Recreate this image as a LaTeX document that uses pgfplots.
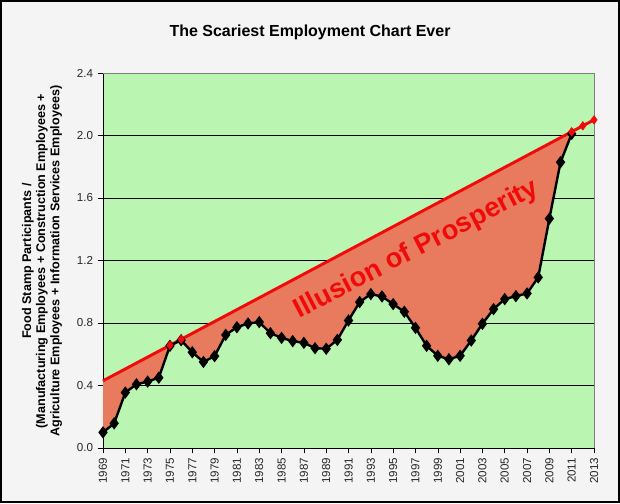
\documentclass[border=0pt]{standalone}
\usepackage{fontspec}
\setmainfont{Liberation Sans}
\usepackage{pgfplots}
\pgfplotsset{compat=1.18}
\definecolor{bggreen}{RGB}{186,245,178}
\definecolor{fillorange}{RGB}{232,122,94}
\definecolor{outerbg}{RGB}{244,244,244}
\definecolor{redline}{RGB}{240,10,10}
\begin{document}
\begin{tikzpicture}
\fill[outerbg] (0,0) rectangle (465pt,377.25pt);
\draw[black, line width=1.2pt] (0.6pt,0.6pt) rectangle (464.4pt,376.65pt);
\begin{axis}[
  at={(77.25pt,41.25pt)}, anchor=south west,
  scale only axis, width=368.25pt, height=281.25pt,
  xmin=1969, xmax=2013, ymin=0, ymax=2.4,
  ytick={0,0.4,0.8,1.2,1.6,2.0,2.4},
  xtick={1969,1971,...,2013},
  /pgf/number format/assume math mode=true,
  yticklabel style={/pgf/number format/fixed, /pgf/number format/fixed zerofill, /pgf/number format/precision=1},
  xticklabel style={rotate=90, anchor=east, /pgf/number format/1000 sep={}},
  tick label style={font=\fontsize{8.7}{10}\selectfont, text=black!85},
  tick align=outside, tick style={black, thin},
  major tick length=4pt,
  ymajorgrids, grid style={black, thin},
  axis background/.style={fill=bggreen},
  axis x line*=bottom, axis y line*=left,
  axis line style={black, thin},
  clip=false,
]
\draw[gray, thin] (axis cs:1969,2.4) -- (axis cs:2013,2.4) -- (axis cs:2013,0);
% area between the trend line and the series
\addplot[fill=fillorange, draw=none] coordinates {
(1969,0.43) (2011,2.024)
(2011,2.011) (2010,1.829) (2009,1.468) (2008,1.092) (2007,0.989) (2006,0.972) (2005,0.953)
(2004,0.889) (2003,0.795) (2002,0.688) (2001,0.590) (2000,0.568) (1999,0.590) (1998,0.654)
(1997,0.769) (1996,0.872) (1995,0.921) (1994,0.970) (1993,0.985) (1992,0.934) (1991,0.816)
(1990,0.692) (1989,0.635) (1988,0.639) (1987,0.673) (1986,0.684) (1985,0.705) (1984,0.735)
(1983,0.806) (1982,0.797) (1981,0.773) (1980,0.724) (1979,0.588) (1978,0.551) (1977,0.613)
(1976,0.690) (1975,0.654) (1974,0.450) (1973,0.425) (1972,0.408) (1971,0.355) (1970,0.158)
(1969,0.100)
} -- cycle;
% trend line
\addplot[redline, line width=2.2pt, no marks] coordinates {(1969,0.43) (2013,2.10)};
% series
\addplot[black, line width=1.8pt, mark=diamond*, mark size=3.2pt, mark options={solid, fill=black}] coordinates {
(1969,0.100) (1970,0.158) (1971,0.355) (1972,0.408) (1973,0.425) (1974,0.450) (1975,0.654)
(1976,0.690) (1977,0.613) (1978,0.551) (1979,0.588) (1980,0.724) (1981,0.773) (1982,0.797)
(1983,0.806) (1984,0.735) (1985,0.705) (1986,0.684) (1987,0.673) (1988,0.639) (1989,0.635)
(1990,0.692) (1991,0.816) (1992,0.934) (1993,0.985) (1994,0.970) (1995,0.921) (1996,0.872)
(1997,0.769) (1998,0.654) (1999,0.590) (2000,0.568) (2001,0.590) (2002,0.688) (2003,0.795)
(2004,0.889) (2005,0.953) (2006,0.972) (2007,0.989) (2008,1.092) (2009,1.468) (2010,1.829)
(2011,2.011)
};
% trend markers
\addplot[only marks, mark=diamond*, mark size=3.2pt, mark options={fill=redline, draw=redline}] coordinates {
(1975,0.658) (1976,0.696) (2011,2.024) (2012,2.062) (2013,2.10)
};
\node[rotate=27.5, text=redline, font=\bfseries\fontsize{20.5}{24}\selectfont] at (axis cs:1997.1,1.27) {Illusion of Prosperity};
\end{axis}
\node[font=\bfseries\fontsize{12}{14}\selectfont] at (232.5pt,353pt) {The Scariest Employment Chart Ever};
\node[rotate=90, align=center, font=\bfseries\fontsize{9.45}{10.6}\selectfont] at (31.5pt,181.5pt)
  {Food Stamp Participants /\\(Manufacturing Employees + Construction Employees +\\Agriculture Employees + Information Services Employees)};
\end{tikzpicture}
\end{document}
